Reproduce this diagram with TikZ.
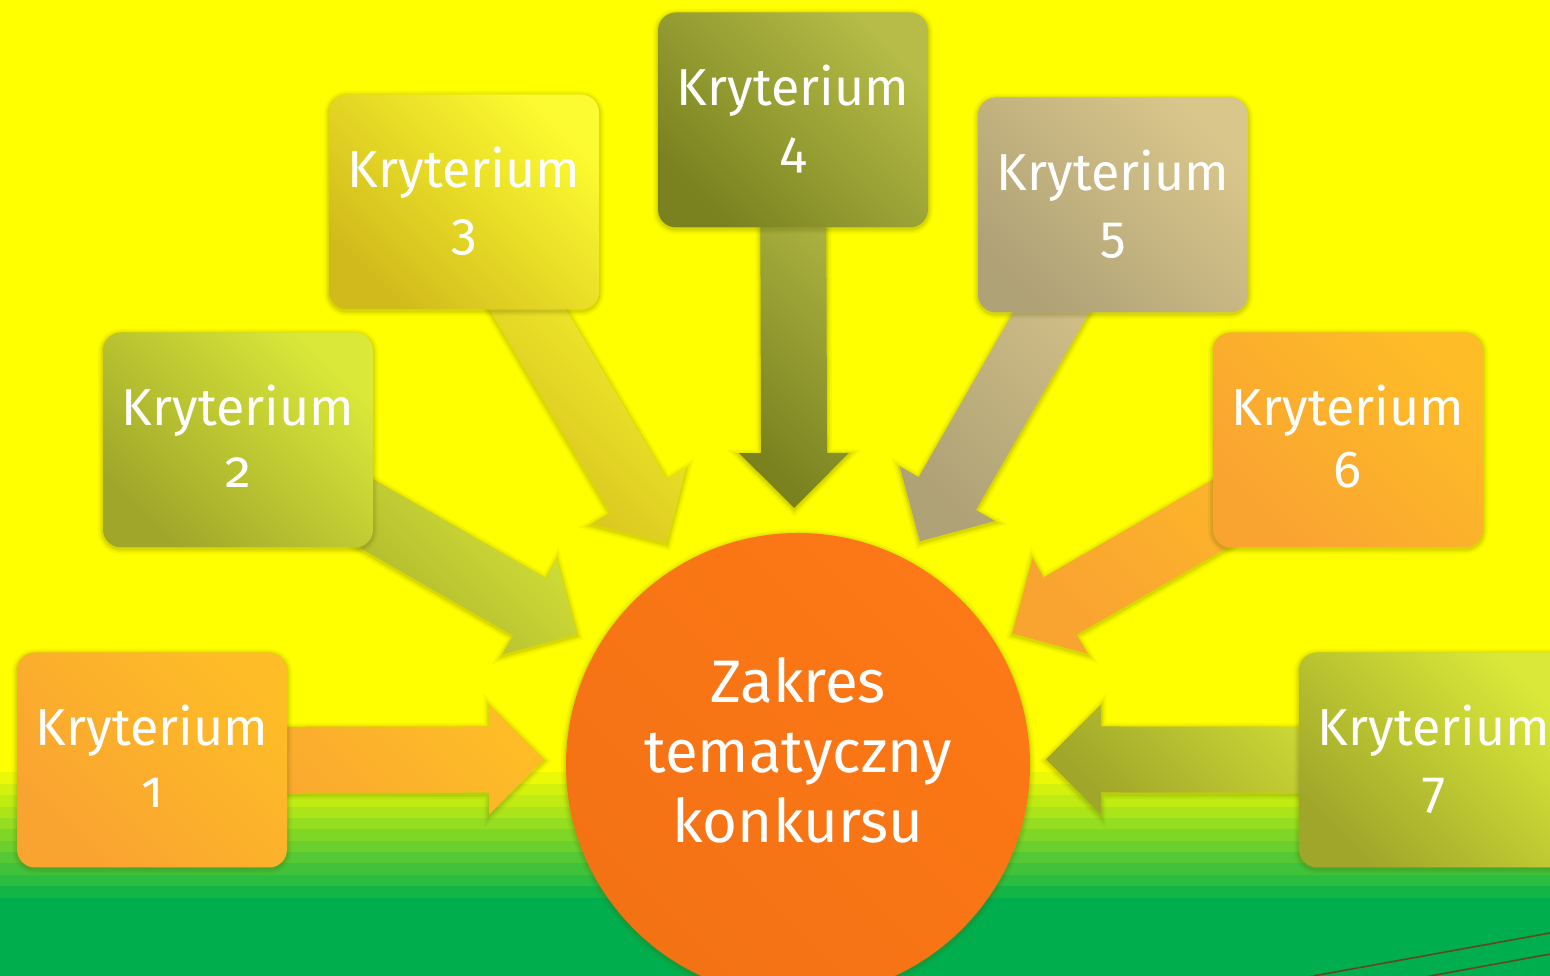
\documentclass[tikz,border=0pt]{standalone}
\usepackage{fontspec}
\setmainfont{Fira Sans}[Numbers=OldStyle]
\usetikzlibrary{calc}
\definecolor{bgY}{HTML}{FFFF00}
\definecolor{bgG}{HTML}{00AE4D}
\definecolor{oD}{HTML}{F9A331}
\definecolor{oL}{HTML}{FEBC27}
\definecolor{gD}{HTML}{A0A62A}
\definecolor{gL}{HTML}{DAE839}
\definecolor{yD}{HTML}{D1BA1C}
\definecolor{yL}{HTML}{FCFA30}
\definecolor{kD}{HTML}{7A8220}
\definecolor{kL}{HTML}{B6BC47}
\definecolor{tD}{HTML}{B0A277}
\definecolor{tL}{HTML}{D9C68B}
\definecolor{cD}{HTML}{F37214}
\definecolor{cL}{HTML}{FD7816}
\definecolor{lineB}{HTML}{5E4A1E}
\definecolor{shadowC}{HTML}{5A5A00}
\newcommand\krt[1]{\rule{0pt}{48pt}Kryterium\\\rule[-14pt]{0pt}{14pt}#1}
\tikzset{
  grad/.style 2 args={top color=#2, bottom color=#1, shading angle=-45},
  soft/.style={line join=round,
    preaction={draw=shadowC, draw opacity=0.06, line width=10pt, transform canvas={yshift=-1.5pt}},
    preaction={draw=shadowC, draw opacity=0.08, line width=6pt, transform canvas={yshift=-1.5pt}},
    preaction={draw=shadowC, draw opacity=0.10, line width=3pt, transform canvas={yshift=-1.5pt}}},
  kbox/.style={rectangle, rounded corners=18pt, minimum width=270pt, minimum height=215pt, inner sep=0pt, text=white, align=center, font=\fontsize{52}{62}\selectfont, soft},
  hub/.style={circle, minimum size=464pt, inner sep=0pt, text=white, align=center, font=\fontsize{60}{70}\selectfont, soft, grad={cD}{cL}},
  blockarrow/.style={soft},
  stripeline/.style={lineB, line width=1.6pt},
}
\begin{document}
\begin{tikzpicture}[x=1pt,y=1pt]
\useasboundingbox (0,0) rectangle (1550,976);
\fill[bgY] (0,0) rectangle (1550,976);
\fill[bgG] (0,0) rectangle (1550,78.5);
\foreach \i in {1,...,11}{
  \pgfmathtruncatemacro\pc{round(\i*100/12)}
  \fill[bgG!\pc!bgY] (0,{203.5-(\i-1)*11.36}) rectangle (1550,{203-\i*11.36-0.5});
}
\draw[stripeline] (1290,-4.2) -- (1700,70.2);
\draw[stripeline] (1410,-3.7) -- (1700,49.4);
\coordinate (H) at (795,217);
\node[hub] (Z) at (798,211) {\rule{0pt}{56pt}Zakres\\tematyczny\\\rule[-40pt]{0pt}{40pt}konkursu};
\coordinate (p1) at (152,216);
\coordinate (p2) at (238,536);
\coordinate (p3) at (464,774);
\coordinate (p4) at (793,856);
\coordinate (p5) at (1113,771);
\coordinate (p6) at (1348,536);
\coordinate (p7) at (1434,216);
\foreach \n/\dk/\lt in {1/oD/oL, 2/gD/gL, 3/yD/yL, 4/kD/kL, 5/tD/tL, 6/oD/oL, 7/gD/gL}{
  \coordinate (hb) at ($(H)!306pt!(p\n)$);
  \coordinate (tp) at ($(H)!251pt!(p\n)$);
  \path[blockarrow, grad={\dk}{\lt}]
    ($(p\n)!33pt!90:(H)$) -- ($(hb)!33pt!90:(H)$) -- ($(hb)!55pt!90:(H)$) -- (tp)
    -- ($(hb)!55pt!-90:(H)$) -- ($(hb)!33pt!-90:(H)$) -- ($(p\n)!33pt!-90:(H)$) -- cycle;
}
\foreach \n/\dk/\lt in {1/oD/oL, 2/gD/gL, 3/yD/yL, 4/kD/kL, 5/tD/tL, 6/oD/oL, 7/gD/gL}{
  \node[kbox, grad={\dk}{\lt}] (k\n) at (p\n) {\krt{\n}};
}
\end{tikzpicture}
\end{document}
